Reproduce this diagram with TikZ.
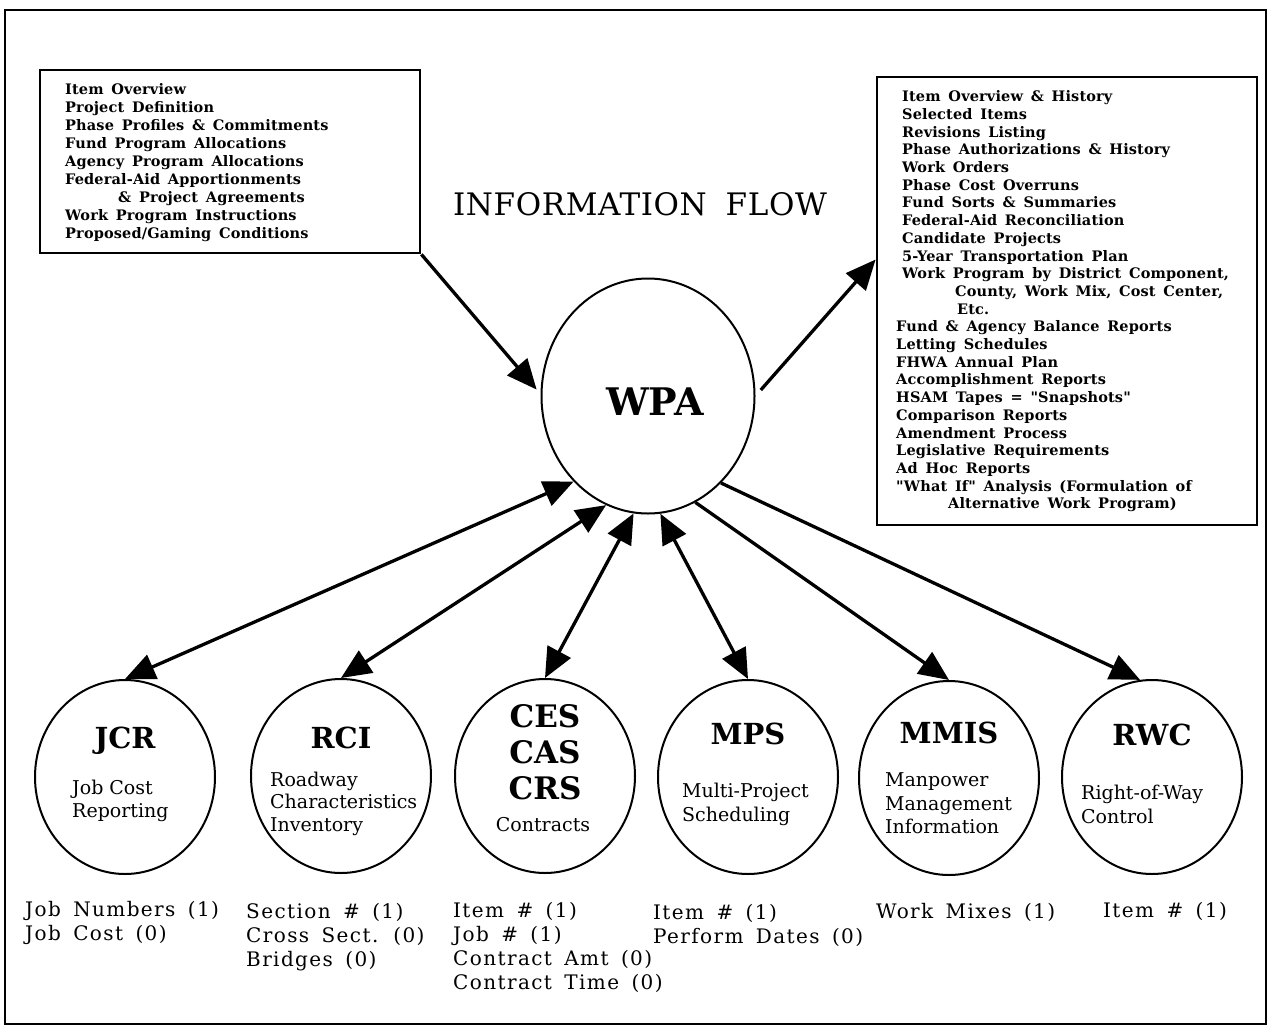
\documentclass[tikz,border=0pt]{standalone}
\usepackage{fontspec}
\setmainfont{DejaVu Serif}
\newfontfamily\listfont[LetterSpace=1,WordSpace=1.5]{DejaVu Serif}
\newfontfamily\labelfont[LetterSpace=7,WordSpace=1.6]{DejaVu Serif}
\newfontfamily\headfont[LetterSpace=2,WordSpace=1.8]{DejaVu Serif}
\usetikzlibrary{arrows.meta,shapes.geometric,calc}

\tikzset{
  frame/.style={line width=2.6pt},
  panel/.style={draw, line width=2.8pt, inner sep=0pt},
  listtext/.style={anchor=north west, inner sep=0pt, align=left,
    font=\listfont\bfseries\fontsize{14.5}{17.7}\selectfont},
  hub/.style={draw, ellipse, line width=2pt, inner sep=0pt,
    minimum width=213pt, minimum height=235pt},
  sys/.style={draw, ellipse, line width=2pt, inner sep=0pt,
    minimum width=180pt, minimum height=194pt},
  systitle/.style={inner sep=0pt, font=\bfseries\fontsize{29}{31}\selectfont},
  sysdesc/.style={anchor=north west, inner sep=0pt, align=left,
    font=\fontsize{19}{23.5}\selectfont},
  fieldlist/.style={anchor=north west, inner sep=0pt, align=left,
    font=\labelfont\fontsize{20}{24}\selectfont},
  flow/.style={line width=3.3pt, -{Triangle[length=30pt,width=26pt]}},
  biflow/.style={line width=3.3pt, {Triangle[length=30pt,width=26pt]}-{Triangle[length=30pt,width=26pt]}}
}

\begin{document}
\begin{tikzpicture}[x=1pt,y=-1pt]
\useasboundingbox (0,0) rectangle (1270,1026);

% outer frame
\draw[frame] (5,10) rectangle (1266,1024);

% heading
\node[inner sep=0pt, font=\headfont\fontsize{31}{34}\selectfont] (title) at (640,204) {INFORMATION FLOW};

% input panel
\node[panel, minimum width=380pt, minimum height=183pt] (lbox) at (230,161.5) {};
\node[listtext, font=\listfont\bfseries\fontsize{14.5}{18}\selectfont] (ltext) at (65,83.5) {Item Overview\\
Project Definition\\
Phase Profiles \& Commitments\\
Fund Program Allocations\\
Agency Program Allocations\\
Federal-Aid Apportionments\\
\hspace*{53pt}\& Project Agreements\\
Work Program Instructions\\
Proposed/Gaming Conditions};

% output panel
\node[panel, minimum width=380pt, minimum height=448pt] (rbox) at (1067,301) {};
\node[listtext] (rtext) at (896,90.5) {\hspace*{6pt}Item Overview \& History\\
\hspace*{6pt}Selected Items\\
\hspace*{6pt}Revisions Listing\\
\hspace*{6pt}Phase Authorizations \& History\\
\hspace*{6pt}Work Orders\\
\hspace*{6pt}Phase Cost Overruns\\
\hspace*{6pt}Fund Sorts \& Summaries\\
\hspace*{6pt}Federal-Aid Reconciliation\\
\hspace*{6pt}Candidate Projects\\
\hspace*{6pt}5-Year Transportation Plan\\
\hspace*{6pt}Work Program by District Component,\\
\hspace*{59pt}County, Work Mix, Cost Center,\\
\hspace*{61pt}Etc.\\
Fund \& Agency Balance Reports\\
Letting Schedules\\
FHWA Annual Plan\\
Accomplishment Reports\\
HSAM Tapes = "Snapshots"\\
Comparison Reports\\
Amendment Process\\
Legislative Requirements\\
Ad Hoc Reports\\
"What If" Analysis (Formulation of\\
\hspace*{52pt}Alternative Work Program)};

% central system
\node[hub] (wpa) at (648,396) {};
\node[inner sep=0pt, font=\bfseries\fontsize{38}{40}\selectfont] (wpaT) at (655,402) {WPA};

% feeder systems
\node[sys] (jcr)  at (125,777) {};
\node[sys] (rci)  at (341,776) {};
\node[sys] (ces)  at (545,776) {};
\node[sys] (mps)  at (748,777) {};
\node[sys] (mmis) at (949,778) {};
\node[sys] (rwc)  at (1152,777) {};

\node[systitle] (jcrT)  at (125,741) {JCR};
\node[systitle] (rciT)  at (341,738) {RCI};
\node[inner sep=0pt, anchor=north, align=center,
      font=\bfseries\fontsize{31}{36}\selectfont] (cesT) at (545,704.5) {CES\\CAS\\CRS};
\node[systitle] (mpsT)  at (748,734) {MPS};
\node[systitle] (mmisT) at (949,733) {MMIS};
\node[systitle] (rwcT)  at (1152,735) {RWC};

\node[sysdesc, font=\fontsize{19}{23}\selectfont] (jcrD) at (72,779.5) {Job Cost\\Reporting};
\node[sysdesc, font=\fontsize{19}{22.5}\selectfont] (rciD) at (270,771.5) {Roadway\\Characteristics\\Inventory};
\node[inner sep=0pt, font=\fontsize{19}{23}\selectfont] (cesD) at (543,825) {Contracts};
\node[sysdesc, font=\fontsize{19}{24}\selectfont] (mpsD) at (682,782.5) {Multi-Project\\Scheduling};
\node[sysdesc] (mmisD) at (885,772.5) {Manpower\\Management\\Information};
\node[sysdesc, font=\fontsize{19}{24}\selectfont] (rwcD) at (1081,784.5) {Right-of-Way\\Control};

% shared data items
\node[fieldlist] (jcrF)  at (25,901.5)   {Job Numbers (1)\\Job Cost (0)};
\node[fieldlist] (rciF)  at (246,903.5)  {Section \# (1)\\Cross Sect. (0)\\Bridges (0)};
\node[fieldlist] (cesF)  at (453,902.5)  {Item \# (1)\\Job \# (1)\\Contract Amt (0)\\Contract Time (0)};
\node[fieldlist] (mpsF)  at (653,904.5)  {Item \# (1)\\Perform Dates (0)};
\node[fieldlist] (mmisF) at (876,903.5)  {Work Mixes (1)};
\node[fieldlist] (rwcF)  at (1103,902.5) {Item \# (1)};

% flows
\draw[flow, shorten >=6pt] (lbox.south east) -- (wpa.179.5);
\draw[flow, shorten <=8pt] (wpa.0) -- ($(rbox.north west)!0.408!(rbox.south west)$);
\draw[biflow] (wpa.229.9) -- (jcr.north);
\draw[biflow] (wpa.249.8) -- (rci.north);
\draw[biflow] (wpa.263.8) -- (ces.north);
\draw[biflow] (wpa.276.8) -- (mps.north);
\draw[flow] (wpa.294.6) -- (mmis.north);
\draw[flow] (wpa.310.1) -- (rwc.97);
\end{tikzpicture}
\end{document}
